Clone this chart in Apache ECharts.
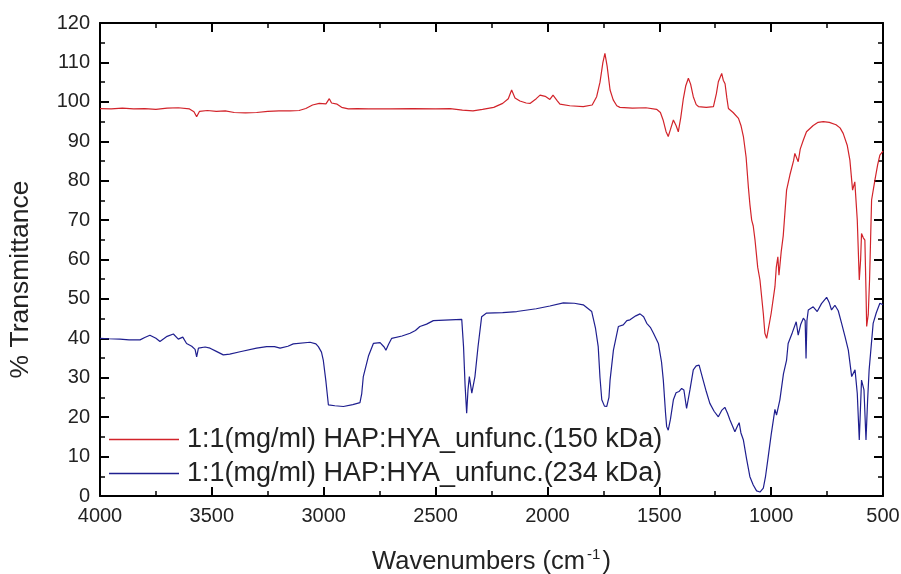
<!DOCTYPE html>
<html>
<head>
<meta charset="utf-8">
<script src="https://cdn.jsdelivr.net/npm/echarts@6/dist/echarts.min.js"></script>
<style>html,body{margin:0;padding:0;background:#fff}#c{width:901px;height:574px}</style>
</head>
<body>
<div id="c"></div>
<script>
// Series names
const seriesNames = ['1:1(mg/ml) HAP:HYA_unfunc.(150 kDa)', '1:1(mg/ml) HAP:HYA_unfunc.(234 kDa)'];

// Red series (150 kDa): wavenumbers and % transmittance
const redWavenumbers = [4000,3950,3900,3850,3800,3750,3700,3650,3600,3580,3568,3555,3520,3480,3440,3400,3350,3300,3250,3200,3150,3110,3080,3050,3020,2990,2975,2965,2940,2920,2890,2850,2800,2700,2600,2500,2435,2380,2333,2290,2240,2200,2175,2160,2145,2123,2095,2078,2050,2033,2010,2003,1989,1975,1955,1944,1900,1840,1800,1780,1765,1752,1743,1733,1720,1706,1690,1676,1620,1560,1512,1495,1483,1470,1460,1450,1437,1425,1415,1404,1393,1382,1370,1360,1348,1335,1325,1290,1258,1245,1236,1228,1221,1214,1206,1198,1191,1170,1146,1135,1124,1112,1102,1095,1087,1080,1072,1060,1050,1035,1028,1020,1013,1000,983,977,970,965,961,955,946,931,916,900,894,879,870,856,842,812,790,767,740,710,692,678,660,648,636,626,615,606,600,596,588,581,576,573,566,560,551,536,524,514,500];
const redValues = [98.3,98.2,98.4,98.2,98.3,98.1,98.4,98.5,98.2,97.5,96.2,97.6,97.8,97.6,97.7,97.3,97.2,97.3,97.6,97.7,97.7,97.8,98.3,99.2,99.6,99.5,100.8,99.7,99.4,98.6,98.2,98.3,98.2,98.2,98.3,98.2,98.3,97.9,97.7,98.1,98.6,99.6,100.8,103.0,101.0,100.2,99.7,99.6,100.8,101.7,101.4,101.3,100.6,101.7,100.2,99.4,99.0,98.8,99.2,101.3,105,110,112.3,109,103,100.5,99.0,98.6,98.4,98.5,98.1,97.3,95.4,92.5,91.2,93.0,95.4,94.0,92.4,96,100.6,104,106.0,104.5,101.3,99.3,98.8,98.6,98.8,102,105.1,104.8,107.2,105.5,104.6,101,98.3,97.3,95.8,94,91.2,86,78.5,74,70.0,68.5,64.9,58,54.8,46.3,41.3,40.0,40.4,46.3,53.1,58,60.7,56,56.5,62,66,77.6,81.5,85,86.9,84.8,88,90.3,92.4,94,94.8,95.0,94.8,94.2,93.4,92.0,89,85.2,77.6,79.7,70,54.8,60,66.6,65.5,64.9,52,43,46,55,75.1,80.2,84,86.5,87.5];

// Blue series (234 kDa)
const blueWavenumbers = [4000,3960,3911,3870,3821,3800,3777,3750,3732,3700,3672,3650,3630,3613,3590,3575,3568,3560,3553,3530,3508,3480,3449,3420,3374,3300,3255,3220,3195,3160,3136,3061,3035,3024,3010,3002,2990,2979,2950,2912,2870,2838,2830,2823,2800,2778,2748,2730,2722,2710,2696,2650,2614,2590,2570,2540,2510,2435,2383,2375,2368,2361,2355,2349,2338,2324,2310,2294,2272,2200,2137,2050,1989,1929,1880,1840,1802,1785,1773,1765,1757,1745,1735,1725,1720,1705,1683,1661,1645,1631,1605,1586,1570,1556,1540,1526,1504,1490,1482,1472,1467,1460,1450,1437,1425,1412,1400,1390,1378,1363,1348,1335,1322,1304,1290,1274,1255,1236,1220,1207,1195,1184,1162,1150,1143,1135,1124,1110,1095,1080,1065,1050,1035,1025,1013,1000,990,983,976,961,945,931,924,905,888,879,868,856,848,844,840,834,812,794,775,752,740,730,715,700,685,670,655,640,625,615,606,596,585,576,569,562,544,530,514,500];
const blueValues = [40.0,39.9,39.8,39.6,39.6,40.2,40.8,40.0,39.2,40.5,41.1,39.8,40.3,38.7,38.0,37.2,35.3,37.5,37.9,37.8,37.5,36.7,35.8,36.0,36.6,37.5,37.9,37.9,37.5,38.0,38.6,39.0,38.6,37.9,36.5,34.5,29,23.1,22.9,22.7,23.2,23.7,26,30.3,35.5,38.7,38.9,37.8,37.0,38.5,40.0,40.6,41.3,42.0,43.0,43.6,44.5,44.7,44.8,37.9,28,21.0,27,30.3,26.1,30.3,38,45.5,46.4,46.5,46.8,47.5,48.2,49.0,48.9,48.5,46.8,42.5,37.9,30,24.4,22.8,22.7,25,29.4,37,43.0,43.4,44.5,44.7,45.7,46.2,45.5,43.8,42.8,41.3,38.7,34,29.4,21,17.6,16.7,19.5,24.4,26.2,26.5,27.3,26.9,22.2,26.9,32,33.0,33.2,29.4,26.5,23.5,21.5,20.1,21.8,22.5,21,19.3,16.3,17.8,18.6,16,14.2,9.5,4.9,2.8,1.3,1.0,2.0,5,10.0,15.5,19.3,22.0,20.5,24.4,31,34.5,38.7,41.5,44.2,40.8,43.5,45.1,44.5,34.9,44.5,47.2,48.0,46.8,48.8,50.4,49,47.2,48.4,47,43.8,40.5,37.0,30.3,32.0,26,14.2,29.4,26.9,14.2,24,32,43.8,46.5,48.9,48.5];

const FONT = '"Liberation Sans", Arial, sans-serif';
const pairs = (xs, ys) => xs.map((x, i) => [x, ys[i]]);

const axisLineStyle = { color: '#000', width: 2 };
function xAxisCfg(pos, labels) {
  return {
    type: 'value', position: pos, min: 500, max: 4000, interval: 500, inverse: true,
    axisLine: { show: true, onZero: false, lineStyle: axisLineStyle },
    axisTick: { show: true, inside: true, length: 9, lineStyle: { color: '#000', width: 2 } },
    minorTick: { show: true, splitNumber: 2, length: 5, lineStyle: { color: '#000', width: 1.5 } },
    splitLine: { show: false },
    axisLabel: { show: labels, color: '#222', fontSize: 20, fontFamily: FONT, margin: 10, formatter: v => String(v) }
  };
}
function yAxisCfg(pos, labels) {
  return {
    type: 'value', position: pos, min: 0, max: 120, interval: 10,
    axisLine: { show: true, onZero: false, lineStyle: axisLineStyle },
    axisTick: { show: true, inside: true, length: 9, lineStyle: { color: '#000', width: 2 } },
    minorTick: { show: true, splitNumber: 2, length: 5, lineStyle: { color: '#000', width: 1.5 } },
    splitLine: { show: false },
    axisLabel: { show: labels, color: '#222', fontSize: 20, fontFamily: FONT, margin: 10, formatter: v => String(v) }
  };
}

const xMain = xAxisCfg('bottom', true);
xMain.name = 'Wavenumbers (cm{sup|-1})';
xMain.nameLocation = 'middle';
xMain.nameGap = 51;
xMain.nameTextStyle = { color: '#222', fontSize: 25.5, fontFamily: FONT,
  rich: { sup: { fontSize: 15, fontFamily: FONT, color: '#222', verticalAlign: 'top', padding: [0, 2, 14, 2] } } };

const yMain = yAxisCfg('left', true);
yMain.name = '% Transmittance';
yMain.nameLocation = 'middle';
yMain.nameGap = 66;
yMain.nameTextStyle = { color: '#222', fontSize: 26.5, fontFamily: FONT, padding: [0, 40, 0, 0] };

const chart = echarts.init(document.getElementById('c'), null, { renderer: 'canvas' });
chart.setOption({
  animation: false,
  backgroundColor: '#fff',
  grid: { left: 100, right: 18, top: 23, bottom: 78, containLabel: false, outerBoundsMode: 'none' },
  xAxis: [xMain, xAxisCfg('top', false)],
  yAxis: [yMain, yAxisCfg('right', false)],
  legend: {
    orient: 'vertical', left: 104, top: 421,
    icon: 'rect', itemWidth: 70, itemHeight: 1.5, itemGap: 7,
    textStyle: { color: '#222', fontSize: 27, fontFamily: FONT, padding: [0, 0, 0, 3] },
    data: seriesNames
  },
  series: [
    { name: seriesNames[0], type: 'line', xAxisIndex: 0, yAxisIndex: 0, showSymbol: false,
      data: pairs(redWavenumbers, redValues), lineStyle: { color: '#d2232a', width: 1.2 }, itemStyle: { color: '#d2232a' } },
    { name: seriesNames[1], type: 'line', xAxisIndex: 0, yAxisIndex: 0, showSymbol: false,
      data: pairs(blueWavenumbers, blueValues), lineStyle: { color: '#1f1f8f', width: 1.2 }, itemStyle: { color: '#1f1f8f' } }
  ]
});
</script>
</body>
</html>
